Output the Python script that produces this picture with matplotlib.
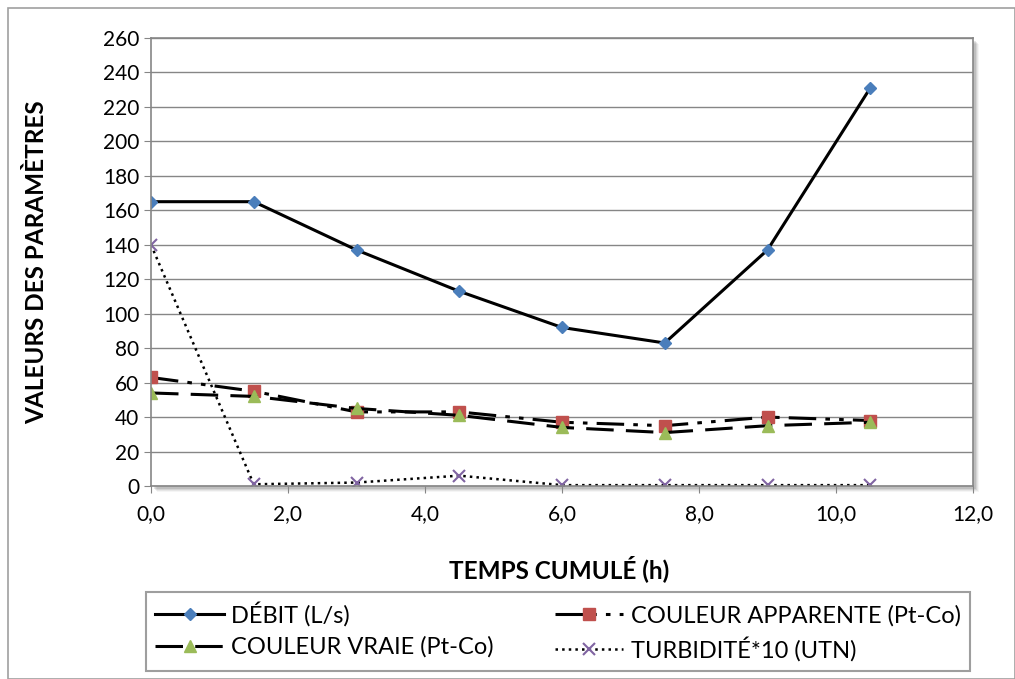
import numpy as np
from matplotlib import pyplot as plt
from matplotlib.patches import Rectangle

# Données
temps = [0.0, 1.5, 3.0, 4.5, 6.0, 7.5, 9.0, 10.5]
debit = [165, 165, 137, 113, 92, 83, 137, 231]
couleur_apparente = [63, 55, 43, 43, 37, 35, 40, 38]
couleur_vraie = [54, 52, 45, 41, 34, 31, 35, 37]
turbidite = [140, 1, 2, 6, 0.5, 0.5, 0.5, 0.5]

plt.rcParams['font.family'] = ['Lato', 'DejaVu Sans']

W, H = 1015, 679
fig = plt.figure(figsize=(W / 100, H / 100), dpi=100)
left, right, top, bottom = 151, 973, 38, 486
ax = fig.add_axes([left / W, 1 - bottom / H, (right - left) / W, (bottom - top) / H])
ax.set_zorder(2)

# Bordure extérieure du graphique
fig.patches.append(Rectangle((8 / W, 0.0), 1 - 8 / W, 1 - 8 / H, transform=fig.transFigure,
                             fill=False, edgecolor='#a0a0a0', linewidth=1.2))
# ombre de la zone de traçage
for i, a in enumerate([0.10, 0.08, 0.06, 0.04]):
    off = 3 + i
    fig.patches.append(Rectangle(((left + off) / W, 1 - (bottom + off) / H),
                                 (right - left) / W, (bottom - top) / H,
                                 transform=fig.transFigure, facecolor='black', alpha=a,
                                 edgecolor='none', zorder=0))

l1, = ax.plot(temps, debit, color='black', linewidth=2.2, marker='D', markersize=6.5,
              markerfacecolor='#4a7ebb', markeredgecolor='#4a7ebb', label='DÉBIT (L/s)')
l2, = ax.plot(temps, couleur_apparente, color='black', linewidth=2.2, dashes=[9, 3, 1.5, 3, 1.5, 3],
              marker='s', markersize=8, markerfacecolor='#c0504d', markeredgecolor='#c0504d',
              label='COULEUR APPARENTE (Pt-Co)')
l3, = ax.plot(temps, couleur_vraie, color='black', linewidth=2.2, dashes=[9, 4],
              marker='^', markersize=9, markerfacecolor='#9bbb59', markeredgecolor='#9bbb59',
              label='COULEUR VRAIE (Pt-Co)')
l4, = ax.plot(temps, turbidite, color='black', linewidth=1.8, linestyle=':',
              marker='x', markersize=8, markeredgecolor='#8064a2', markeredgewidth=1.5,
              label='TURBIDITÉ*10 (UTN)')

ax.set_xlim(0, 12)
ax.set_ylim(0, 260)
ax.set_xticks(np.arange(0, 12.1, 2))
ax.set_xticklabels([f"{v:.1f}".replace('.', ',') for v in np.arange(0, 12.1, 2)])
ax.set_yticks(np.arange(0, 261, 20))
ax.tick_params(labelsize=15, length=5, color='#868686')
ax.tick_params(axis='x', pad=8)
ax.grid(axis='y', color='#868686', linewidth=1)
ax.set_axisbelow(True)
for s in ax.spines.values():
    s.set_color('#868686')
    s.set_linewidth(1.2)

ax.set_xlabel('TEMPS CUMULÉ (h)', fontsize=17.5, fontweight='bold')
ax.xaxis.set_label_coords(0.496, -0.155)
ax.set_ylabel('VALEURS DES PARAMÈTRES', fontsize=17.5, fontweight='bold')
ax.yaxis.set_label_coords(-0.125, 0.5)

# ordre ligne par ligne comme dans l'original
leg = fig.legend([l1, l3, l2, l4], [l.get_label() for l in [l1, l3, l2, l4]],
                 loc='upper left', bbox_to_anchor=(146 / W, 1 - 592 / H),
                 ncol=2, fontsize=17, frameon=True, fancybox=False, handlelength=2.9,
                 handletextpad=0.3, borderaxespad=0, labelspacing=0.42, columnspacing=2.6,
                 borderpad=0.4)
leg.get_frame().set_edgecolor('#868686')
leg.get_frame().set_linewidth(1.5)

plt.savefig('out.png', dpi=100)
